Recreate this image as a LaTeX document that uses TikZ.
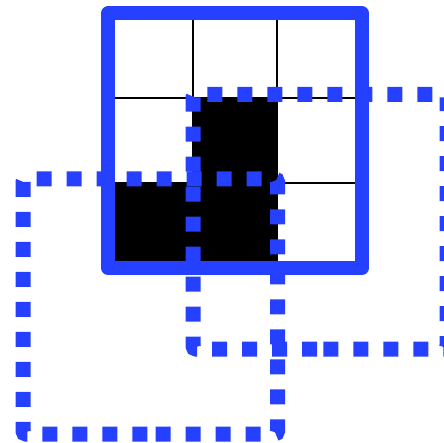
\documentclass[tikz,border=0pt]{standalone}
\definecolor{myblue}{RGB}{38,64,255}
\tikzset{
  frame/.style={draw=myblue, line width=14pt, line join=round},
  gridline/.style={draw=black, line width=2pt},
  cellfill/.style={fill=black},
  dotrect/.style={draw=myblue, line width=15pt, dash pattern=on 15pt off 15pt, rounded corners=3pt}
}
\begin{document}
\begin{tikzpicture}[x=1pt,y=-1pt]
\useasboundingbox (0,0) rectangle (444,443);
% grid coordinates
\coordinate (tl) at (108,13.5);
\coordinate (br) at (362,268);
% black cells
\fill[cellfill] (192.7,98.2) rectangle (277.3,182.8);
\fill[cellfill] (108,182.8) rectangle (277.3,268);
% grid lines
\draw[gridline] (192.7,13.5) -- (192.7,268);
\draw[gridline] (277.3,13.5) -- (277.3,268);
\draw[gridline] (108,98.2) -- (362,98.2);
\draw[gridline] (108,182.8) -- (362,182.8);
% frame
\draw[frame] (tl) rectangle (br);
% dotted rectangles
\draw[dotrect] (320,349) -- (193,349) -- (193,94.5) -- (447,94.5) -- (447,349) -- cycle;
\draw[dotrect] (150.25,434) -- (23,434) -- (23,179) -- (277.5,179) -- (277.5,434) -- cycle;
\end{tikzpicture}
\end{document}
